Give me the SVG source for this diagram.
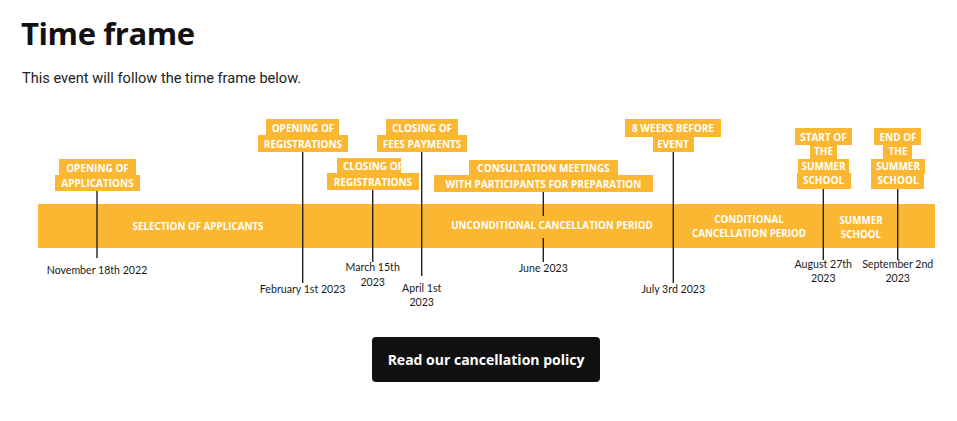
<svg xmlns="http://www.w3.org/2000/svg" width="957" height="421" viewBox="0 0 957 421">
<style>
.title{font-family:"Open Sans",sans-serif;font-weight:700;font-size:31px;fill:#111;letter-spacing:-0.4px}
.sub{font-family:Roboto,sans-serif;font-size:14.6px;fill:#222}
.lb{fill:#FBB731}
.lt{font-family:"Open Sans",sans-serif;font-weight:700;font-size:10px;fill:#fff;text-anchor:middle}
.bt{font-family:"Open Sans",sans-serif;font-weight:700;font-size:9.8px;fill:#fff;text-anchor:middle}
.dt{font-family:Lato,sans-serif;font-size:10.6px;fill:#1a1a1a;text-anchor:middle}
.ln{stroke:#222;stroke-width:1.4;fill:none}
.btn{font-family:"Open Sans",sans-serif;font-weight:700;font-size:14px;fill:#fff;text-anchor:middle}
</style>
<rect width="957" height="421" fill="#fff"/>
<text class="title" x="21" y="45">Time frame</text>
<text class="sub" x="22" y="83">This event will follow the time frame below.</text>

<g id="band">
<rect x="38" y="204" width="897" height="44" class="lb"/>
<text class="bt" x="198" y="230">SELECTION OF APPLICANTS</text>
<text class="bt" x="552" y="229">UNCONDITIONAL CANCELLATION PERIOD</text>
<text class="bt" x="749" y="223">CONDITIONAL</text>
<text class="bt" x="749" y="237">CANCELLATION PERIOD</text>
<text class="bt" x="861" y="224">SUMMER</text>
<text class="bt" x="861" y="238">SCHOOL</text>
</g>

<g id="connectors">
<line class="ln" x1="97" y1="191" x2="97" y2="258"/>
<line class="ln" x1="302.7" y1="152" x2="302.7" y2="283"/>
<line class="ln" x1="372.7" y1="190" x2="372.7" y2="262"/>
<line class="ln" x1="421.7" y1="152" x2="421.7" y2="276"/>
<line class="ln" x1="543.3" y1="192" x2="543.3" y2="216"/>
<line class="ln" x1="543.3" y1="238" x2="543.3" y2="262"/>
<line class="ln" x1="673.3" y1="152" x2="673.3" y2="283"/>
<line class="ln" x1="823.3" y1="189" x2="823.3" y2="260"/>
<line class="ln" x1="897.7" y1="189" x2="897.7" y2="260"/>
</g>

<g id="n-applications">
<rect class="lb" x="59" y="159" width="77" height="17"/>
<rect class="lb" x="55" y="175" width="85" height="16"/>
<text class="lt" x="97.5" y="171.5">OPENING OF</text>
<text class="lt" x="97.5" y="187">APPLICATIONS</text>
<text class="dt" x="97" y="274">November 18th 2022</text>
</g>

<g id="n-open-reg">
<rect class="lb" x="266" y="119" width="73" height="17"/>
<rect class="lb" x="258" y="135" width="90" height="17"/>
<text class="lt" x="303" y="131.5">OPENING OF</text>
<text class="lt" x="303" y="147.5">REGISTRATIONS</text>
<text class="dt" x="302.7" y="293">February 1st 2023</text>
</g>

<g id="n-close-reg">
<rect class="lb" x="337" y="158" width="64" height="16"/>
<rect class="lb" x="327" y="173" width="92" height="17"/>
<text class="lt" x="373" y="170">CLOSING OF</text>
<text class="lt" x="373" y="185.5">REGISTRATIONS</text>
<text class="dt" x="372.7" y="271">March 15th</text>
<text class="dt" x="372.7" y="286">2023</text>
</g>

<g id="n-fees">
<rect class="lb" x="386" y="119" width="72" height="17"/>
<rect class="lb" x="377" y="135" width="90" height="17"/>
<text class="lt" x="422" y="131.5">CLOSING OF</text>
<text class="lt" x="422" y="147.5">FEES PAYMENTS</text>
<text class="dt" x="421.7" y="292">April 1st</text>
<text class="dt" x="421.7" y="306">2023</text>
</g>

<g id="n-consult">
<rect class="lb" x="469" y="160" width="149" height="16"/>
<rect class="lb" x="434" y="175" width="219" height="17"/>
<text class="lt" x="543.5" y="172">CONSULTATION MEETINGS</text>
<text class="lt" x="543.5" y="187.5">WITH PARTICIPANTS FOR PREPARATION</text>
<text class="dt" x="543.3" y="272">June 2023</text>
</g>

<g id="n-8weeks">
<rect class="lb" x="625" y="119" width="96" height="18"/>
<rect class="lb" x="653" y="136" width="41" height="16"/>
<text class="lt" x="673" y="131.5">8 WEEKS BEFORE</text>
<text class="lt" x="673" y="147.5">EVENT</text>
<text class="dt" x="673.3" y="293">July 3rd 2023</text>
</g>

<g id="n-start">
<rect class="lb" x="795" y="128" width="57" height="17"/>
<rect class="lb" x="810" y="144" width="27" height="16"/>
<rect class="lb" x="798" y="159" width="51" height="15"/>
<rect class="lb" x="797" y="173" width="54" height="16"/>
<text class="lt" x="823.5" y="141">START OF</text>
<text class="lt" x="823.5" y="155">THE</text>
<text class="lt" x="823.5" y="170">SUMMER</text>
<text class="lt" x="823.5" y="184">SCHOOL</text>
<text class="dt" x="823.3" y="268">August 27th</text>
<text class="dt" x="823.3" y="282">2023</text>
</g>

<g id="n-end">
<rect class="lb" x="874" y="128" width="47" height="17"/>
<rect class="lb" x="883" y="144" width="29" height="16"/>
<rect class="lb" x="871" y="159" width="54" height="15"/>
<rect class="lb" x="871" y="173" width="53" height="16"/>
<text class="lt" x="898" y="141">END OF</text>
<text class="lt" x="898" y="155">THE</text>
<text class="lt" x="898" y="170">SUMMER</text>
<text class="lt" x="898" y="184">SCHOOL</text>
<text class="dt" x="897.7" y="268">September 2nd</text>
<text class="dt" x="897.7" y="282">2023</text>
</g>

<g id="button">
<rect x="372" y="337" width="228" height="45" rx="4" fill="#111"/>
<text class="btn" x="486" y="364.5">Read our cancellation policy</text>
</g>
</svg>
